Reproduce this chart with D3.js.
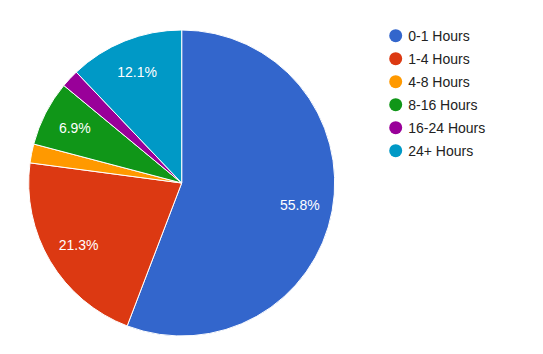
<!DOCTYPE html>
<html>
<head>
<meta charset="utf-8">
<script src="https://d3js.org/d3.v7.min.js"></script>
<style>
body { margin: 0; background: #fff; }
svg text { font-family: Arial, "Liberation Sans", sans-serif; }
</style>
</head>
<body>
<div id="chart"></div>
<script>
// slice categories and their shares (percent)
var categories = ["0-1 Hours", "1-4 Hours", "4-8 Hours", "8-16 Hours", "16-24 Hours", "24+ Hours"];
var shares = [55.8, 21.3, 2.0, 6.9, 1.9, 12.1];
var colors = ["#3366cc", "#dc3912", "#ff9900", "#109618", "#990099", "#0099c6"];

var width = 543, height = 354;
var cx = 181.7, cy = 183, radius = 153;

var svg = d3.select("#chart").append("svg")
    .attr("width", width)
    .attr("height", height);

var data = categories.map(function(c, i) { return {name: c, value: shares[i], color: colors[i]}; });

var pie = d3.pie()
    .sort(null)
    .value(function(d) { return d.value; });

var arc = d3.arc().innerRadius(0).outerRadius(radius);
var labelArc = d3.arc().innerRadius(radius * 0.785).outerRadius(radius * 0.785);

var g = svg.append("g")
    .attr("transform", "translate(" + cx + "," + cy + ")");

var arcs = pie(data);

g.selectAll("path.slice")
    .data(arcs)
    .enter().append("path")
    .attr("class", "slice")
    .attr("d", arc)
    .style("fill", function(d) { return d.data.color; })
    .style("stroke", "#fff")
    .style("stroke-width", 1);

// percentage labels, only for the larger slices
g.selectAll("text.pct")
    .data(arcs.filter(function(d) { return d.data.value >= 5; }))
    .enter().append("text")
    .attr("class", "pct")
    .attr("transform", function(d) { return "translate(" + labelArc.centroid(d) + ")"; })
    .attr("text-anchor", "middle")
    .attr("dy", "0.36em")
    .style("font-size", "14px")
    .style("fill", "#fff")
    .text(function(d) { return d.data.value.toFixed(1) + "%"; });

// legend
var legend = svg.append("g")
    .attr("transform", "translate(395.7,35.7)");

var item = legend.selectAll("g.item")
    .data(data)
    .enter().append("g")
    .attr("class", "item")
    .attr("transform", function(d, i) { return "translate(0," + (i * 23) + ")"; });

item.append("circle")
    .attr("r", 6.5)
    .style("fill", function(d) { return d.color; });

item.append("text")
    .attr("x", 12.5)
    .attr("dy", "0.36em")
    .style("font-size", "14px")
    .style("fill", "#222")
    .text(function(d) { return d.name; });
</script>
</body>
</html>
